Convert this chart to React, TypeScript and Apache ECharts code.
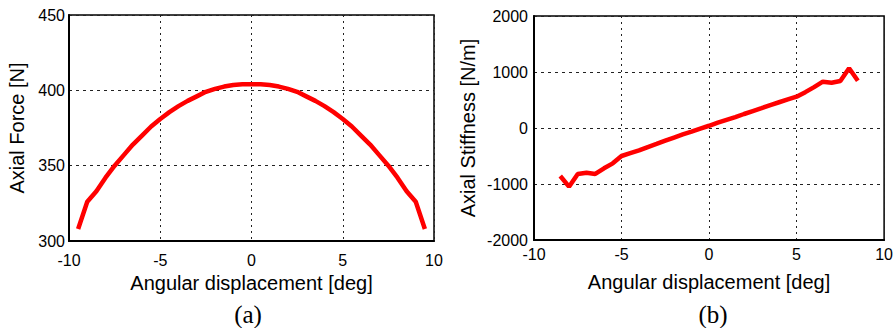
import React, { useEffect, useRef } from "react";
import * as echarts from "echarts";

const angleA = [-9.5, -9, -8.5, -8, -7.5, -7, -6.5, -6, -5.5, -5, -4.5, -4, -3.5, -3, -2.5, -2, -1.5, -1, -0.5, 0, 0.5, 1, 1.5, 2, 2.5, 3, 3.5, 4, 4.5, 5, 5.5, 6, 6.5, 7, 7.5, 8, 8.5, 9, 9.5];
const forceA = [308, 326, 333, 342, 350, 357, 364, 370, 376, 381, 385.5, 389.5, 393, 396, 399, 401, 402.5, 403.5, 404, 404, 404, 403.5, 402.5, 401, 399, 396, 393, 389.5, 385.5, 381, 376, 370, 364, 357, 350, 342, 333, 326, 308];

const angleB = [-8.5, -8, -7.5, -7, -6.5, -6, -5.5, -5, -4.5, -4, -3.5, -3, -2.5, -2, -1.5, -1, -0.5, 0, 0.5, 1, 1.5, 2, 2.5, 3, 3.5, 4, 4.5, 5, 5.5, 6, 6.5, 7, 7.5, 8, 8.5];
const stiffB = [-857, -1048, -821, -798, -821, -720, -631, -500, -450, -400, -340, -285, -226, -170, -115, -65, -10, 40, 95, 145, 195, 250, 303, 355, 410, 460, 510, 560, 640, 730, 827, 809, 839, 1066, 845];

const xTicks = [-10, -5, 0, 5, 10];
const yTicksA = [300, 350, 400, 450];
const yTicksB = [-2000, -1000, 0, 1000, 2000];

const FONT = "'Liberation Sans', Arial, sans-serif";

export default function App() {
  const ref = useRef<HTMLDivElement>(null);
  useEffect(() => {
    if (!ref.current) return;
    const chart = echarts.init(ref.current, undefined, { renderer: "svg" });
    const split = (type: any) => ({ show: true, lineStyle: { color: "#222", width: 1, type } });
    const xAxisBase = (gridIndex: number, margin: number, nameGap: number) => ({
      type: "value",
      gridIndex,
      min: xTicks[0],
      max: xTicks[xTicks.length - 1],
      interval: 5,
      name: "Angular displacement [deg]",
      nameLocation: "middle",
      nameGap,
      nameTextStyle: { color: "#000", fontSize: 20, fontFamily: FONT },
      axisLine: { show: true, onZero: false, lineStyle: { color: "#000", width: 2 } },
      axisTick: { show: false },
      axisLabel: { color: "#000", fontSize: 16, fontFamily: FONT, margin, formatter: (v: number) => String(v) },
      splitLine: split([2, 4]),
    });
    const option: any = {
      animation: false,
      grid: [
        { left: 69, top: 15, width: 365, height: 226, show: true, borderColor: "#000", borderWidth: 1.5, containLabel: false },
        { left: 534, top: 16, width: 354, height: 224, show: true, borderColor: "#000", borderWidth: 1.5, containLabel: false },
      ],
      xAxis: [xAxisBase(0, 11, 31), xAxisBase(1, 6, 32)],
      yAxis: [
        {
          type: "value",
          gridIndex: 0,
          min: yTicksA[0],
          max: yTicksA[yTicksA.length - 1],
          interval: 50,
          name: "Axial Force [N]",
          nameLocation: "middle",
          nameGap: 42,
          nameTextStyle: { color: "#000", fontSize: 20, fontFamily: FONT },
          axisLine: { show: true, onZero: false, lineStyle: { color: "#000", width: 2 } },
          axisTick: { show: false },
          axisLabel: { color: "#000", fontSize: 16, fontFamily: FONT, margin: 4, formatter: (v: number) => String(v) },
          splitLine: split([3, 4]),
        },
        {
          type: "value",
          gridIndex: 1,
          min: yTicksB[0],
          max: yTicksB[yTicksB.length - 1],
          interval: 1000,
          name: "Axial Stiffness [N/m]",
          nameLocation: "middle",
          nameGap: 56,
          nameTextStyle: { color: "#000", fontSize: 20, fontFamily: FONT },
          axisLine: { show: true, onZero: false, lineStyle: { color: "#000", width: 2 } },
          axisTick: { show: false },
          axisLabel: { color: "#000", fontSize: 16, fontFamily: FONT, margin: 6, formatter: (v: number) => String(v) },
          splitLine: split([3, 4]),
        },
      ],
      series: [
        {
          type: "line",
          xAxisIndex: 0,
          yAxisIndex: 0,
          data: angleA.map((x, i) => [x, forceA[i]]),
          showSymbol: false,
          lineStyle: { color: "#ff0000", width: 4.5 },
          itemStyle: { color: "#ff0000" },
        },
        {
          type: "line",
          xAxisIndex: 1,
          yAxisIndex: 1,
          data: angleB.map((x, i) => [x, stiffB[i]]),
          showSymbol: false,
          lineStyle: { color: "#ff0000", width: 4.5 },
          itemStyle: { color: "#ff0000" },
        },
      ],
      graphic: [
        { type: "text", x: 248, y: 314, style: { text: "(a)", fontSize: 25, fontFamily: "'Liberation Serif', 'Times New Roman', serif", fill: "#000", align: "center", verticalAlign: "middle" } },
        { type: "text", x: 713, y: 314, style: { text: "(b)", fontSize: 25, fontFamily: "'Liberation Serif', 'Times New Roman', serif", fill: "#000", align: "center", verticalAlign: "middle" } },
      ],
    };
    chart.setOption(option);
    return () => chart.dispose();
  }, []);
  return (
    <div
      ref={ref}
      style={{ position: "absolute", left: 0, top: 0, width: 896, height: 328, background: "#fff" }}
    />
  );
}
